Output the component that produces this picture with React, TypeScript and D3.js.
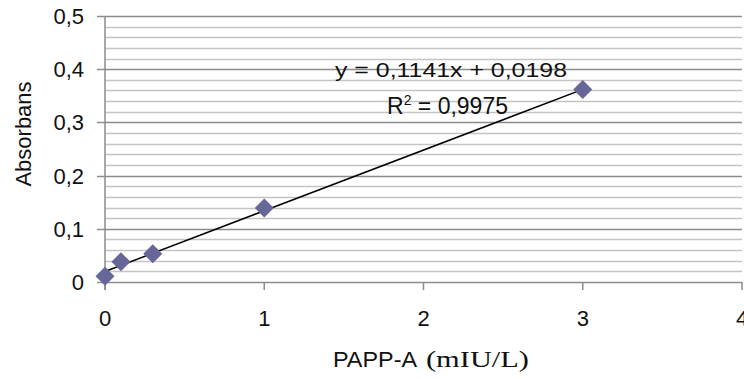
import * as d3 from "d3";
import React, { useEffect, useRef } from "react";

// measured points (PAPP-A mIU/L vs absorbance)
const concentrations = [0, 0.1, 0.3, 1, 3];
const absorbances = [0.011, 0.038, 0.053, 0.139, 0.362];

const xTicks = [0, 1, 2, 3, 4];
const xTickLabels = ["0", "1", "2", "3", "4"];
const yTicks = [0, 0.1, 0.2, 0.3, 0.4, 0.5];
const yTickLabels = ["0", "0,1", "0,2", "0,3", "0,4", "0,5"];

const slope = 0.1141;
const intercept = 0.0198;
const trendRange = [0, 3];
const equationText = "y = 0,1141x + 0,0198";
const rSquaredText = "0,9975";

const App = () => {
  const svgRef = useRef(null);

  useEffect(() => {
    document.body.style.margin = "0";
    const width = 744,
      height = 379;
    const margin = { top: 16, right: 2, bottom: 97, left: 105 };

    const svg = d3
      .select(svgRef.current)
      .html("")
      .attr("width", width)
      .attr("height", height)
      .style("display", "block")
      .style("background", "#fff");

    const x = d3
      .scaleLinear()
      .domain([0, 4])
      .range([margin.left, width - margin.right]);
    const y = d3
      .scaleLinear()
      .domain([0, 0.5])
      .range([height - margin.bottom, margin.top]);

    const font = "'Liberation Sans', Arial, sans-serif";

    // minor gridlines every 0.02
    const minor = d3.range(0, 0.5, 0.02).filter((v, i) => i % 5 !== 0);
    svg
      .append("g")
      .selectAll("line")
      .data(minor)
      .enter()
      .append("line")
      .attr("x1", x(0))
      .attr("x2", x(4))
      .attr("y1", (d) => Math.round(y(d)) + 0.5)
      .attr("y2", (d) => Math.round(y(d)) + 0.5)
      .attr("stroke", "#c4c4c4")
      .attr("stroke-width", 1.5);

    // major gridlines
    svg
      .append("g")
      .selectAll("line")
      .data(yTicks.slice(1))
      .enter()
      .append("line")
      .attr("x1", x(0))
      .attr("x2", x(4))
      .attr("y1", (d) => Math.round(y(d)) + 0.5)
      .attr("y2", (d) => Math.round(y(d)) + 0.5)
      .attr("stroke", "#8c8c8c")
      .attr("stroke-width", 1.5);

    // y axis
    const yAxis = svg.append("g").attr("stroke", "#8c8c8c").attr("stroke-width", 1.5);
    yAxis
      .append("line")
      .attr("x1", x(0))
      .attr("x2", x(0))
      .attr("y1", y(0.5))
      .attr("y2", y(0) + 8);
    yAxis
      .selectAll(".tick")
      .data(yTicks)
      .enter()
      .append("line")
      .attr("x1", x(0) - 8)
      .attr("x2", x(0))
      .attr("y1", (d) => Math.round(y(d)) + 0.5)
      .attr("y2", (d) => Math.round(y(d)) + 0.5);

    svg
      .append("g")
      .selectAll("text")
      .data(yTicks)
      .enter()
      .append("text")
      .attr("x", 84)
      .attr("y", (d) => y(d) + 8)
      .attr("text-anchor", "end")
      .style("font-family", font)
      .style("font-size", "22px")
      .attr("fill", "#111")
      .text((d, i) => yTickLabels[i]);

    // x axis
    const xAxis = svg.append("g").attr("stroke", "#8c8c8c").attr("stroke-width", 1.5);
    xAxis
      .append("line")
      .attr("x1", x(0))
      .attr("x2", x(4))
      .attr("y1", Math.round(y(0)) + 0.5)
      .attr("y2", Math.round(y(0)) + 0.5);
    xAxis
      .selectAll(".tick")
      .data(xTicks)
      .enter()
      .append("line")
      .attr("x1", (d) => Math.min(x(d), width - 2))
      .attr("x2", (d) => Math.min(x(d), width - 2))
      .attr("y1", y(0))
      .attr("y2", y(0) + 8);

    svg
      .append("g")
      .selectAll("text")
      .data(xTicks)
      .enter()
      .append("text")
      .attr("x", (d) => x(d))
      .attr("y", 326)
      .attr("text-anchor", "middle")
      .style("font-family", font)
      .style("font-size", "22px")
      .attr("fill", "#111")
      .text((d, i) => xTickLabels[i]);

    // trendline
    const line = d3
      .line()
      .x((d) => x(d))
      .y((d) => y(slope * d + intercept));
    svg
      .append("path")
      .attr("d", line(trendRange))
      .attr("fill", "none")
      .attr("stroke", "#000")
      .attr("stroke-width", 1.5);

    // diamond markers
    const r = 9.5;
    svg
      .append("g")
      .selectAll("path")
      .data(concentrations)
      .enter()
      .append("path")
      .attr("d", (d, i) => {
        const cx = x(d),
          cy = y(absorbances[i]);
        return `M${cx},${cy - r}L${cx + r},${cy}L${cx},${cy + r}L${cx - r},${cy}Z`;
      })
      .attr("fill", "#666699");

    // equation + R2
    svg
      .append("text")
      .attr("x", 335)
      .attr("y", 77)
      .attr("textLength", 232)
      .attr("lengthAdjust", "spacingAndGlyphs")
      .style("font-family", font)
      .style("font-size", "21px")
      .attr("fill", "#111")
      .text(equationText);

    const r2 = svg
      .append("text")
      .attr("x", 387)
      .attr("y", 114)
      .style("font-family", font)
      .style("font-size", "23px")
      .attr("fill", "#111");
    r2.append("tspan").text("R");
    r2.append("tspan").attr("dy", -9).style("font-size", "14px").text("2");
    r2.append("tspan").attr("dy", 9).text(" = " + rSquaredText);

    // axis titles
    svg
      .append("text")
      .attr("transform", "translate(31,134) rotate(-90)")
      .attr("text-anchor", "middle")
      .style("font-family", font)
      .style("font-size", "22px")
      .attr("fill", "#111")
      .text("Absorbans");

    svg
      .append("text")
      .attr("x", 333)
      .attr("y", 367)
      .attr("textLength", 84)
      .attr("lengthAdjust", "spacingAndGlyphs")
      .style("font-family", font)
      .style("font-size", "22px")
      .attr("fill", "#111")
      .text("PAPP-A");
    svg
      .append("text")
      .attr("x", 426)
      .attr("y", 367)
      .attr("textLength", 103)
      .attr("lengthAdjust", "spacingAndGlyphs")
      .style("font-family", "'Liberation Serif', 'Times New Roman', serif")
      .style("font-size", "23px")
      .attr("fill", "#111")
      .text("(mIU/L)");
  }, []);

  return <svg ref={svgRef}></svg>;
};

export default App;
